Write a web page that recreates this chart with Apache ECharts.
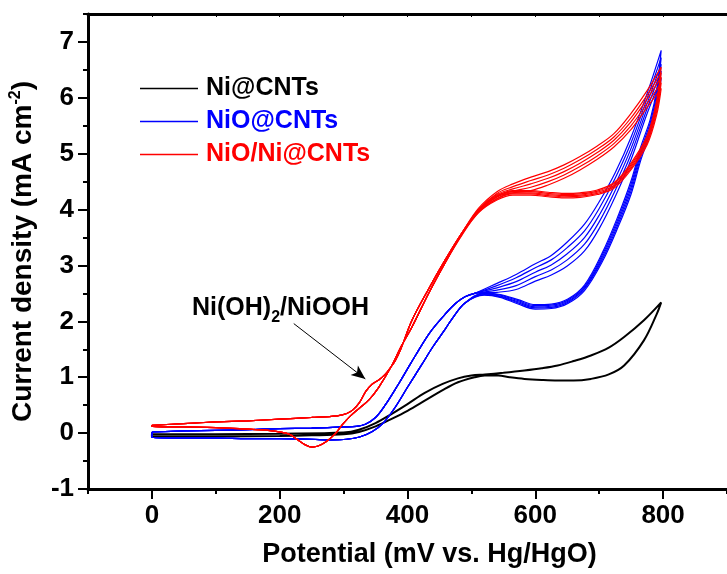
<!DOCTYPE html>
<html>
<head>
<meta charset="utf-8">
<script src="https://cdn.jsdelivr.net/npm/echarts@6/dist/echarts.min.js"></script>
<style>
html,body{margin:0;padding:0;background:#fff;}
#c{width:727px;height:574px;}
</style>
</head>
<body>
<div id="c"></div>
<script>
// ---------- data (potential in mV, current density in mA cm^-2) ----------
const xTickLabels = [0, 200, 400, 600, 800];
const yTickLabels = [-1, 0, 1, 2, 3, 4, 5, 6, 7];
const seriesNames = ['Ni@CNTs', 'NiO@CNTs', 'NiO/Ni@CNTs'];

// Ni@CNTs
const blackFwdX = [0,100,200,300,324,350,376,400,427,455,479,500,521,550,583,610,635,660,687,715,739,770,797];
const blackFwdY = [-0.02,-0.02,-0.01,0.01,0.06,0.18,0.35,0.52,0.72,0.88,0.98,1.03,1.05,1.08,1.12,1.16,1.21,1.29,1.39,1.53,1.72,2.02,2.34];
const blackRevX = [790,770,739,715,687,660,635,610,583,560,542,521,505,479,455,427,400,376,350,324,300,250,200,100,0];
const blackRevY = [2.13,1.66,1.21,1.05,0.97,0.94,0.94,0.95,0.97,1.00,1.03,1.03,1.00,0.91,0.77,0.58,0.40,0.26,0.12,0.02,-0.02,-0.04,-0.05,-0.06,-0.06];

// NiO@CNTs
const blueFwdLowX = [0,50,100,150,200,250,300,320,334,350,365,386,400,412,435,459,475,490,505];
const blueFwdLowY = [0.02,0.04,0.05,0.06,0.08,0.09,0.11,0.12,0.16,0.28,0.50,0.88,1.15,1.38,1.80,2.13,2.32,2.44,2.50];
const blueFwdHiX = [540,570,600,625,650,677,700,725,750,775,797];
const blueFwdHi1 = [2.68,2.84,3.03,3.18,3.42,3.74,4.14,4.66,5.30,6.08,6.85];
const blueFwdHi2 = [2.64,2.78,2.96,3.10,3.32,3.62,4.02,4.56,5.20,5.99,6.72];
const blueFwdHi3 = [2.60,2.71,2.88,3.01,3.21,3.50,3.90,4.45,5.10,5.90,6.60];
const blueFwdHi4 = [2.56,2.64,2.80,2.92,3.10,3.38,3.78,4.34,5.00,5.81,6.48];
const blueFwdHi5 = [2.52,2.57,2.72,2.83,2.99,3.26,3.66,4.23,4.90,5.72,6.35];
const blueRevHiX = [790,780,765,750,730,705,677,651,625,600,573,545,520];
const blueRevHi1 = [6.15,5.62,5.12,4.52,3.90,3.23,2.65,2.40,2.31,2.30,2.39,2.48,2.51];
const blueRevHi2 = [6.08,5.56,5.06,4.46,3.85,3.19,2.62,2.38,2.29,2.28,2.37,2.47,2.50];
const blueRevHi3 = [6.00,5.50,5.00,4.40,3.80,3.15,2.60,2.36,2.27,2.26,2.35,2.45,2.49];
const blueRevHi4 = [5.92,5.44,4.94,4.34,3.75,3.11,2.58,2.34,2.25,2.24,2.33,2.44,2.48];
const blueRevHi5 = [5.85,5.38,4.88,4.28,3.70,3.07,2.55,2.32,2.23,2.22,2.31,2.43,2.47];
const blueRevLowX = [490,470,459,440,422,400,380,362,345,325,305,280,250,200,150,100,50,0];
const blueRevLowY = [2.33,2.05,1.86,1.55,1.22,0.82,0.45,0.18,0.03,-0.07,-0.11,-0.12,-0.11,-0.10,-0.10,-0.09,-0.09,-0.08];

// NiO/Ni@CNTs
const redFwdLowX = [0,50,100,150,200,250,290,305,315,325,335,345,355,365,375,381,390,407,433,459,485];
const redFwdLowY = [0.14,0.17,0.20,0.22,0.25,0.28,0.31,0.35,0.42,0.55,0.75,0.88,0.95,1.05,1.20,1.30,1.52,2.02,2.58,3.10,3.58];
const redFwdHiX = [511,540,565,593,620,645,670,697,723,749,775,797];
const redFwdHi1 = [4.02,4.32,4.46,4.58,4.68,4.80,4.95,5.14,5.36,5.71,6.13,6.55];
const redFwdHi2 = [4.00,4.29,4.41,4.52,4.62,4.74,4.89,5.08,5.30,5.63,6.05,6.45];
const redFwdHi3 = [3.99,4.27,4.37,4.46,4.56,4.68,4.83,5.02,5.24,5.56,5.98,6.37];
const redFwdHi4 = [3.98,4.25,4.33,4.40,4.50,4.62,4.77,4.96,5.18,5.49,5.90,6.27];
const redFwdHi5 = [3.97,4.23,4.30,4.34,4.44,4.56,4.71,4.90,5.12,5.42,5.83,6.17];
const redRevHiX = [790,775,749,723,697,670,645,620,593,565,540,511,485];
const redRevHi1 = [5.95,5.32,4.82,4.48,4.35,4.30,4.29,4.31,4.34,4.34,4.24,3.98,3.58];
const redRevHi2 = [5.88,5.28,4.79,4.46,4.33,4.28,4.27,4.29,4.32,4.32,4.22,3.97,3.57];
const redRevHi3 = [5.82,5.24,4.76,4.43,4.31,4.26,4.25,4.27,4.30,4.30,4.20,3.96,3.56];
const redRevHi4 = [5.76,5.20,4.73,4.41,4.29,4.24,4.23,4.25,4.28,4.28,4.19,3.95,3.55];
const redRevHi5 = [5.70,5.16,4.70,4.38,4.27,4.22,4.21,4.23,4.26,4.26,4.17,3.94,3.54];
const redRevLowX = [459,433,407,390,375,355,340,325,310,298,287,272,260,251,240,228,215,189,137,100,50,0];
const redRevLowY = [3.05,2.50,1.90,1.55,1.20,0.82,0.60,0.45,0.30,0.15,-0.01,-0.16,-0.23,-0.25,-0.21,-0.12,-0.02,0.04,0.08,0.10,0.11,0.12];

// annotation arrow (data coordinates)
const arrowFrom = [222, 1.96];
const arrowTo = [334, 0.97];

// ---------- build ----------
function zip(xs, ys) { return xs.map((x, i) => [x, ys[i]]); }
function cycle(parts) {
  let out = [];
  parts.forEach(p => { out = out.concat(zip(p[0], p[1])); });
  out.push(out[0]);
  return out;
}
const FONT = '"Liberation Sans", Arial, sans-serif';
const colors = ['#000000', '#0000ff', '#ff0000'];

const series = [];
series.push({
  name: seriesNames[0], type: 'line', symbol: 'none', smooth: 0.35,
  lineStyle: { color: colors[0], width: 2 }, itemStyle: { color: colors[0] },
  data: cycle([[blackFwdX, blackFwdY], [blackRevX, blackRevY]]),
  z: 2,
  markLine: {
    silent: true, symbol: ['none', 'arrow'], symbolSize: [9, 14],
    label: { show: false },
    lineStyle: { color: '#000', width: 1, type: 'solid' },
    data: [[{ coord: arrowFrom }, { coord: arrowTo }]]
  }
});
const blueFwd = [blueFwdHi1, blueFwdHi2, blueFwdHi3, blueFwdHi4, blueFwdHi5];
const blueRev = [blueRevHi1, blueRevHi2, blueRevHi3, blueRevHi4, blueRevHi5];
blueFwd.forEach((f, i) => {
  series.push({
    name: seriesNames[1], type: 'line', symbol: 'none', smooth: 0.35,
    lineStyle: { color: colors[1], width: 1.2 }, itemStyle: { color: colors[1] },
    data: cycle([[blueFwdLowX, blueFwdLowY], [blueFwdHiX, f], [blueRevHiX, blueRev[i]], [blueRevLowX, blueRevLowY]]),
    z: 3
  });
});
const redFwd = [redFwdHi1, redFwdHi2, redFwdHi3, redFwdHi4, redFwdHi5];
const redRev = [redRevHi1, redRevHi2, redRevHi3, redRevHi4, redRevHi5];
redFwd.forEach((f, i) => {
  series.push({
    name: seriesNames[2], type: 'line', symbol: 'none', smooth: 0.35,
    lineStyle: { color: colors[2], width: 1.2 }, itemStyle: { color: colors[2] },
    data: cycle([[redFwdLowX, redFwdLowY], [redFwdHiX, f], [redRevHiX, redRev[i]], [redRevLowX, redRevLowY]]),
    z: 4
  });
});

const axisLineStyle = { color: '#000', width: 3 };
const labelStyle = { color: '#000', fontSize: 26, fontWeight: 'bold', fontFamily: FONT };

const option = {
  animation: false,
  backgroundColor: '#fff',
  grid: { left: 88, top: 14, width: 642, height: 475, containLabel: false },
  legend: {
    show: true,
    orient: 'vertical', left: 135, top: 71,
    icon: 'rect',
    itemWidth: 58, itemHeight: 1.5, itemGap: 8,
    data: seriesNames.map((n, i) => ({ name: n, textStyle: { color: colors[i] }, itemStyle: { color: colors[i] } })),
    textStyle: { fontSize: 25, fontWeight: 'bold', fontFamily: FONT, lineHeight: 24, padding: [0, 0, 0, 3] },
    selectedMode: false
  },
  xAxis: [
    {
      type: 'value', position: 'bottom', min: -100, max: 900, interval: 100,
      axisLine: { onZero: false, lineStyle: axisLineStyle },
      axisTick: { show: true, inside: false, length: 5, lineStyle: { color: '#000', width: 2 } },
      axisLabel: Object.assign({ margin: 14, customValues: xTickLabels }, labelStyle),
      splitLine: { show: false },
      name: 'Potential (mV vs. Hg/HgO)', nameLocation: 'middle', nameGap: 52,
      nameTextStyle: { color: '#000', fontSize: 27, fontWeight: 'bold', fontFamily: FONT, padding: [0, 0, 0, 44] }
    },
    {
      type: 'value', position: 'bottom', min: -100, max: 900, interval: 100,
      axisLine: { show: false, onZero: false },
      axisTick: { show: true, length: 10, customValues: xTickLabels, lineStyle: { color: '#000', width: 2 } },
      axisLabel: { show: false }, splitLine: { show: false }
    },
    {
      type: 'value', position: 'top', min: -100, max: 900, interval: 100,
      axisLine: { onZero: false, lineStyle: axisLineStyle },
      axisTick: { show: true, inside: true, length: 3, lineStyle: { color: '#000', width: 1 } },
      axisLabel: { show: false }, splitLine: { show: false }
    }
  ],
  yAxis: [
    {
      type: 'value', position: 'left', min: -1, max: 7.5, interval: 0.5,
      axisLine: { onZero: false, lineStyle: axisLineStyle },
      axisTick: { show: true, inside: false, length: 5, lineStyle: { color: '#000', width: 2 } },
      axisLabel: Object.assign({ margin: 14, customValues: yTickLabels }, labelStyle),
      splitLine: { show: false },
      name: 'Current density (mA cm{sup|-2})', nameLocation: 'middle', nameGap: 50,
      nameTextStyle: {
        color: '#000', fontSize: 28, fontWeight: 'bold', fontFamily: FONT, lineHeight: 30,
        rich: { sup: { fontSize: 16, fontWeight: 'bold', fontFamily: FONT, color: '#000', verticalAlign: 'top', lineHeight: 16 } }
      }
    },
    {
      type: 'value', position: 'left', min: -1, max: 7.5, interval: 0.5,
      axisLine: { show: false, onZero: false },
      axisTick: { show: true, length: 10, customValues: yTickLabels, lineStyle: { color: '#000', width: 2 } },
      axisLabel: { show: false }, splitLine: { show: false }
    }
  ],
  graphic: [
    {
      type: 'text', left: 192, top: 290, z: 10,
      style: {
        text: 'Ni(OH){sub|2}/NiOOH',
        fill: '#000', fontSize: 25, fontWeight: 'bold', fontFamily: FONT, lineHeight: 36,
        rich: { sub: { fontSize: 16, fontWeight: 'bold', fontFamily: FONT, fill: '#000', verticalAlign: 'bottom', lineHeight: 16 } }
      }
    }
  ],
  series: series
};

const chart = echarts.init(document.getElementById('c'), null, { renderer: 'canvas' });
chart.setOption(option);
</script>
</body>
</html>
